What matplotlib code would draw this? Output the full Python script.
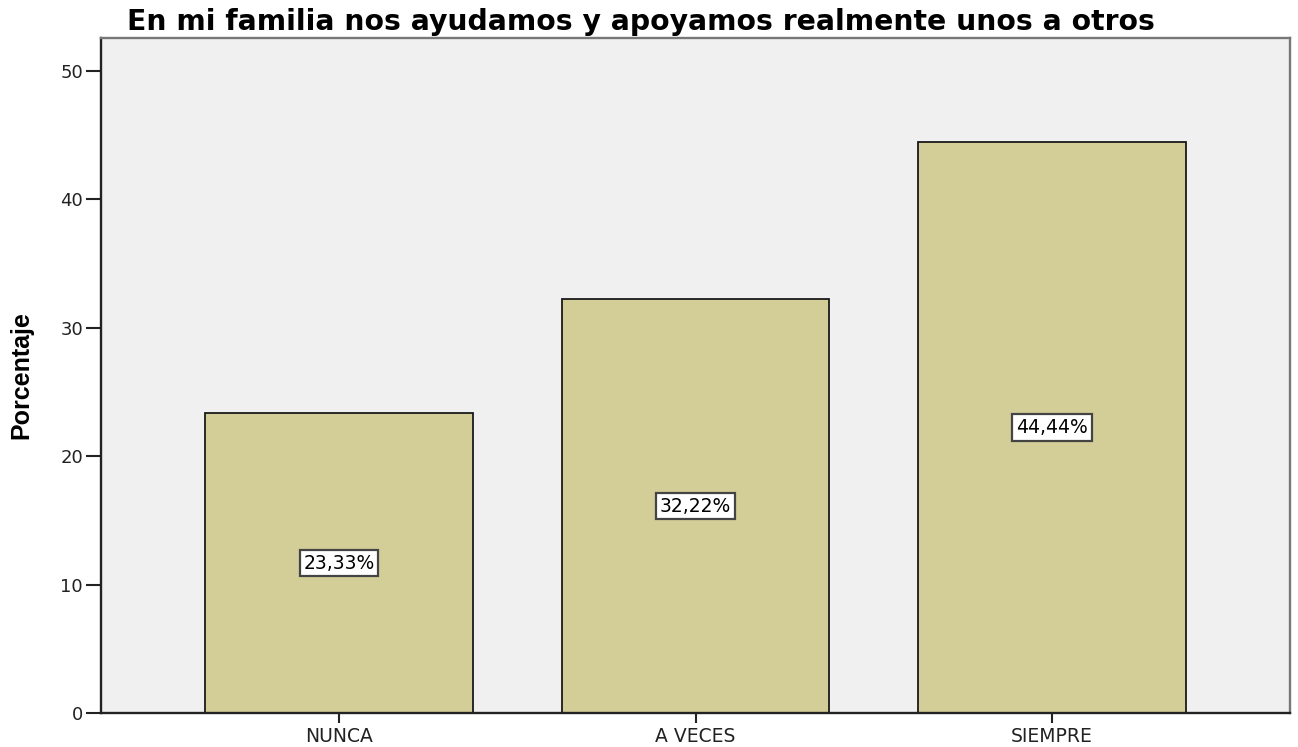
import matplotlib
matplotlib.use("Agg")
import matplotlib.pyplot as plt

categories = ["NUNCA", "A VECES", "SIEMPRE"]
values = [23.33, 32.22, 44.44]
labels = ["23,33%", "32,22%", "44,44%"]
yticks = [0, 10, 20, 30, 40, 50]

plt.rcParams['font.family'] = ['DejaVu Sans']

fig = plt.figure(figsize=(12.98, 7.47), dpi=100)
ax = fig.add_axes([101/1298, 34/747, (1290-101)/1298, (713-38)/747])
ax.set_facecolor("#F0F0F0")

x = list(range(len(categories)))
ax.bar(x, values, width=0.75, color="#D3CE97", edgecolor="#1a1a1a", linewidth=1.3, zorder=2)
for xi, v, lab in zip(x, values, labels):
    ax.text(xi, v/2, lab, ha="center", va="center", fontsize=13.5, color="black", zorder=3,
            bbox=dict(boxstyle="square,pad=0.2", facecolor="white", edgecolor="#444444", linewidth=1.6))

ax.set_xlim(-0.668, 2.668)
ax.set_ylim(0, 52.57)
ax.set_xticks(x)
ax.set_xticklabels(categories, fontsize=13.5, color="#222222")
ax.set_yticks(yticks)
ax.set_yticklabels([str(t) for t in yticks], fontsize=13, color="#222222")
ax.tick_params(axis="y", direction="out", length=11, width=1.5, color="#222222", pad=2)
ax.tick_params(axis="x", direction="out", length=7, width=1.5, color="#222222", pad=3)

for s in ["left", "bottom"]:
    ax.spines[s].set_color("#222222")
    ax.spines[s].set_linewidth(1.7)
for s in ["top", "right"]:
    ax.spines[s].set_color("#777777")
    ax.spines[s].set_linewidth(1.7)

ax.set_ylabel("Porcentaje", fontsize=18, fontweight="bold", family=['Liberation Sans', 'DejaVu Sans'])
ax.yaxis.set_label_coords(-68/1189, 0.5)
fig.text(641/1298, 1-22/747, "En mi familia nos ayudamos y apoyamos realmente unos a otros",
         ha="center", va="center", fontsize=20.3, fontweight="bold")

fig.savefig("out.png", dpi=100)
